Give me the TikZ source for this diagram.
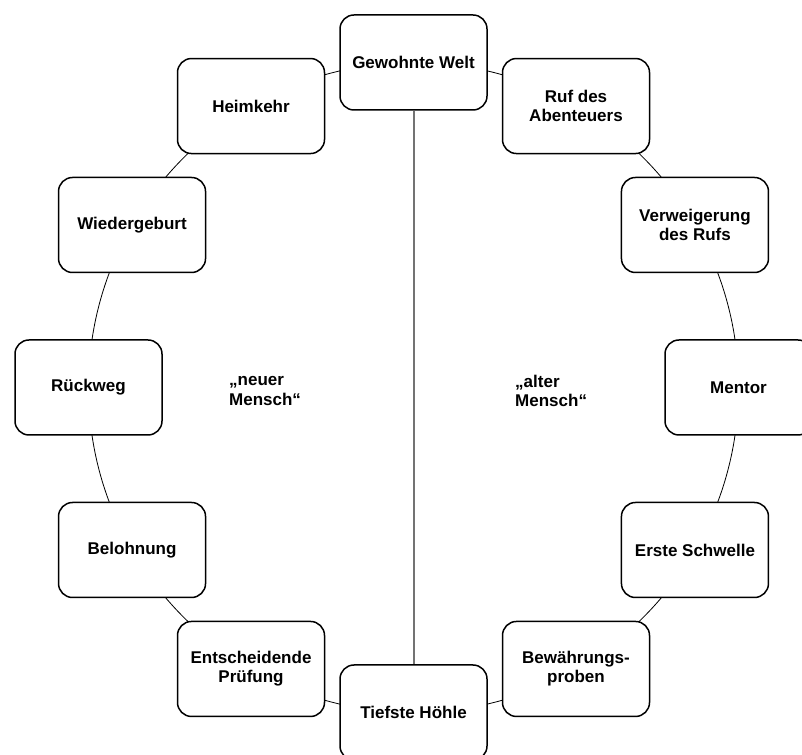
\documentclass[tikz,border=0pt]{standalone}
\usepackage{fontspec}
\setmainfont{Liberation Sans}
\begin{document}
\begin{tikzpicture}[x=1pt,y=1pt,
  stage/.style={draw=black, line width=1.5pt, fill=white, rounded corners=14pt,
    minimum width=147pt, minimum height=95pt, align=center, inner sep=2pt,
    font=\bfseries\fontsize{17}{19}\selectfont},
  lbl/.style={anchor=west, align=left, inner sep=0pt, font=\bfseries\fontsize{17}{19.5}\selectfont},
  ring/.style={draw=black, line width=0.8pt},
  axis/.style={draw=black!55, line width=2pt}]
\useasboundingbox (0,0) rectangle (802,754);
\coordinate (c) at (413.5,366.5);
\draw[ring] (c) circle (325);
\begin{scope}[shift={(413.5,366.5)}]
  \node[stage] (gw)  at (90:325)   {Gewohnte Welt};
  \node[stage] (ruf) at (60:325)   {Ruf des\\Abenteuers};
  \node[stage] (ver) at (30:325)   {Verweigerung\\des Rufs};
  \node[stage] (men) at (0:325)    {Mentor};
  \node[stage] (ers) at (-30:325)  {Erste Schwelle};
  \node[stage] (bew) at (-60:325)  {Bewährungs-\\proben};
  \node[stage] (tie) at (-90:325)  {Tiefste Höhle};
  \node[stage] (ent) at (-120:325) {Entscheidende\\Prüfung};
  \node[stage] (bel) at (-150:325) {Belohnung};
  \node[stage] (rue) at (180:325)  {Rückweg};
  \node[stage] (wie) at (150:325)  {Wiedergeburt};
  \node[stage] (hei) at (120:325)  {Heimkehr};
\end{scope}
\draw[axis] (gw) -- (tie);
\node[lbl] (neu) at (229,363) {„neuer\\Mensch“};
\node[lbl] (alt) at (515,363) {„alter\\Mensch“};
\end{tikzpicture}
\end{document}
